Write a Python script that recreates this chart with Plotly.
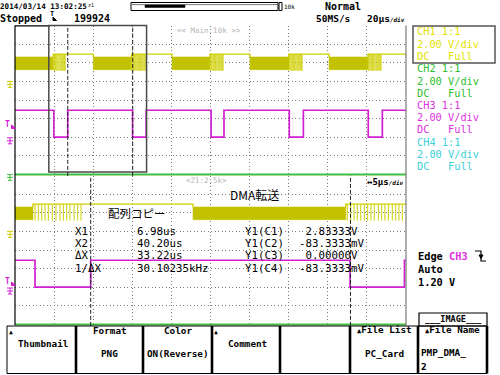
import plotly.graph_objects as go

W, H = 500, 375
MONO = "DejaVu Sans Mono"
CJK = "Noto Sans CJK JP"

# ---------------- data (time in µs relative to trigger) ----------------
main_range = [-20.0, 180.0]      # 20 µs/div x 10
zoom_range = [-2.7, 47.3]        # 5 µs/div x 10
main_dtick = 20.0
zoom_dtick = 5.0
div_range = [-4.08, 4.0]

cursor_x = [6.98, 40.20]

volts_per_div = 2.0
ch1_pos_div = 1.0
ch2_pos_div = -4.0
ch3_pos_div = -2.0

ch1_high_v = 2.93
ch1_band_top_v = 2.63
ch1_band_bot_v = 1.26
ch1_spike_low_v = 1.15
ch1_dense_start = [-20.0, 20.06, 60.3, 100.2, 140.6]
ch1_dense_end = [-0.4, 39.6, 79.7, 120.2, 160.6]
ch1_spikes = [
    -0.14, 0.28, 0.71, 1.14, 1.56, 2.07, 2.54, 3.05, 3.48, 3.91, 4.33, 4.85, 5.32, 5.74,
    39.79, 40.23, 40.65, 41.07, 41.51, 41.97, 42.40, 42.82, 43.25, 43.76, 44.19, 44.61,
    45.04, 45.55, 45.99, 46.40, 46.83,
    79.9, 80.3, 80.7, 81.2, 81.6, 82.1, 82.5, 82.9, 83.4, 83.9, 84.3, 84.7, 85.2, 85.7,
    86.1, 86.5,
    120.3, 120.7, 121.1, 121.6, 122.0, 122.5, 122.9, 123.3, 123.8, 124.3, 124.7, 125.1,
    125.6, 126.1, 126.5, 126.9,
    160.7, 161.1, 161.5, 162.0, 162.4, 162.9, 163.3, 163.7, 164.2, 164.7, 165.1, 165.5,
    166.0, 166.5, 166.9, 167.3,
]

ch3_high_v = 2.90
ch3_low_v = 0.0
ch3_low_start = [-0.14, 40.15, 80.3, 120.3, 160.7]
ch3_low_end = [6.98, 47.1, 86.9, 127.5, 167.9]

ch2_level_v = 0.0

cursor_labels = ["X1", "X2", "ΔX", "1/ΔX"]
cursor_values = ["6.98us", "40.20us", "33.22us", "30.10235kHz"]
cursor_ylabels = ["Y1(C1)", "Y1(C2)", "Y1(C3)", "Y1(C4)"]
cursor_yvalues = ["\u00a02.83333V", "-83.3333mV", "\u00a00.00000V", "-83.3333mV"]

ch_names = ["CH1", "CH2", "CH3", "CH4"]
ch_probe = ["1:1", "1:1", "1:1", "1:1"]
ch_vdiv = ["2.00 V/div"] * 4
ch_coupling = ["DC", "DC", "DC", "DC"]
ch_bw = ["Full", "Full", "Full", "Full"]

menu_top = ["", "Format", "Color", "", "", "File List", "File Name"]
menu_mid = ["Thumbnail", "", "", "Comment", "", "", ""]
menu_bot = ["", "PNG", "ON(Reverse)", "", "", "PC_Card", "PMP_DMA_"]

# ---------------- colours ----------------
YEL = "#cfcf00"
YEL_BAND = "#c2c200"
YEL_TXT = "#e2e200"
MAG = "#d21ed2"
MAG_TXT = "#dd33dd"
GRN = "#3fbf3f"
GRN_TXT = "#2fbf2f"
CYN_TXT = "#3cd0d8"
GRID = "#7c7c7c"


def vdiv(pos, v):
    return pos + v / volts_per_div


# ---------------- figure ----------------
fig = go.Figure()


def add_signals(xa, ya, t_end, spike_w):
    # CH1 dense band
    bx, by = [], []
    lo, hi = vdiv(ch1_pos_div, ch1_band_bot_v), vdiv(ch1_pos_div, ch1_band_top_v)
    for s, e in zip(ch1_dense_start, ch1_dense_end):
        bx += [s, e, e, s, s, None]
        by += [lo, lo, hi, hi, lo, None]
    fig.add_trace(go.Scatter(x=bx, y=by, mode="lines", fill="toself", fillcolor=YEL_BAND,
                             line=dict(color=YEL_BAND, width=0.5), xaxis=xa, yaxis=ya,
                             hoverinfo="skip"))
    # CH1 high level
    hx, hy = [], []
    h = vdiv(ch1_pos_div, ch1_high_v)
    for i, e in enumerate(ch1_dense_end):
        nxt = ch1_dense_start[i + 1] if i + 1 < len(ch1_dense_start) else t_end
        hx += [e, e, nxt, nxt, None]
        hy += [hi, h, h, hi, None]
    fig.add_trace(go.Scatter(x=hx, y=hy, mode="lines", line=dict(color=YEL, width=1.4),
                             xaxis=xa, yaxis=ya, hoverinfo="skip"))
    # CH1 spikes
    sx, sy = [], []
    sl = vdiv(ch1_pos_div, ch1_spike_low_v)
    for t in ch1_spikes:
        sx += [t, t, None]
        sy += [h, sl, None]
    fig.add_trace(go.Scatter(x=sx, y=sy, mode="lines", line=dict(color=YEL, width=spike_w),
                             xaxis=xa, yaxis=ya, hoverinfo="skip"))
    # CH3
    mh, ml = vdiv(ch3_pos_div, ch3_high_v), vdiv(ch3_pos_div, ch3_low_v)
    mx, my = [main_range[0]], [mh]
    for s, e in zip(ch3_low_start, ch3_low_end):
        mx += [s, s, e, e]
        my += [mh, ml, ml, mh]
    mx.append(t_end)
    my.append(mh)
    fig.add_trace(go.Scatter(x=mx, y=my, mode="lines", line=dict(color=MAG, width=1.7),
                             xaxis=xa, yaxis=ya, hoverinfo="skip"))
    # CH2
    g = vdiv(ch2_pos_div, ch2_level_v)
    fig.add_trace(go.Scatter(x=[main_range[0], t_end], y=[g, g], mode="lines",
                             line=dict(color=GRN, width=2), xaxis=xa, yaxis=ya,
                             hoverinfo="skip"))


add_signals("x", "y", main_range[1], 0.8)
add_signals("x2", "y2", main_range[1], 1.0)

# geometry (pixels)
X_L, X_R = 15, 406
DIVPX = 18.6
UP_C, LO_C = 100.0, 250.0


def ydom(center):
    top = center - div_range[1] * DIVPX
    bot = center - div_range[0] * DIVPX
    return [1 - bot / H, 1 - top / H]


axcommon = dict(showticklabels=False, ticks="", zeroline=False, showline=False,
                showgrid=True, gridcolor=GRID, griddash="1px,2.5px", gridwidth=1,
                fixedrange=True)

fig.update_layout(
    width=W, height=H, autosize=False,
    margin=dict(l=0, r=0, t=0, b=0, pad=0),
    paper_bgcolor="white", plot_bgcolor="rgba(0,0,0,0)",
    showlegend=False,
    xaxis=dict(domain=[X_L / W, X_R / W], range=main_range, tick0=main_range[0],
               dtick=main_dtick, anchor="y", **axcommon),
    yaxis=dict(domain=ydom(UP_C), range=div_range, tick0=0, dtick=1, anchor="x", **axcommon),
    xaxis2=dict(domain=[X_L / W, X_R / W], range=zoom_range, tick0=zoom_range[0],
                dtick=zoom_dtick, anchor="y2", **axcommon),
    yaxis2=dict(domain=ydom(LO_C), range=div_range, tick0=0, dtick=1, anchor="x2", **axcommon),
)

shapes = []


def P(x, y):
    return x / W, 1 - y / H


def pline(x0, y0, x1, y1, color="black", width=1, dash=None):
    a, b = P(x0, y0)
    c, d = P(x1, y1)
    ln = dict(color=color, width=width)
    if dash:
        ln["dash"] = dash
    shapes.append(dict(type="line", xref="paper", yref="paper", x0=a, y0=b, x1=c, y1=d,
                       line=ln, layer="above"))


def prect(x0, y0, x1, y1, color="black", width=1, fill=None):
    a, b = P(x0, y0)
    c, d = P(x1, y1)
    shapes.append(dict(type="rect", xref="paper", yref="paper", x0=a, y0=b, x1=c, y1=d,
                       line=dict(color=color, width=width),
                       fillcolor=fill if fill else "rgba(0,0,0,0)", layer="above"))


def ppath(pts, color, fill=None, width=1):
    d = "M " + " L ".join(f"{x / W:.5f},{1 - y / H:.5f}" for x, y in pts)
    if fill:
        d += " Z"
    shapes.append(dict(type="path", xref="paper", yref="paper", path=d,
                       line=dict(color=color, width=width),
                       fillcolor=fill if fill else "rgba(0,0,0,0)", layer="above"))


def ground(x, y, color):
    pline(x - 3, y, x + 3, y, color, 1)
    pline(x, y, x, y + 6, color, 1)
    pline(x - 3, y + 3, x + 3, y + 3, color, 1)
    pline(x - 2, y + 6, x + 2, y + 6, color, 1)


# panel frame
pline(X_L, 25.6, X_L, 325, "black", 1.2)
pline(X_R, 25.6, X_R, 325, "#7a7a7a", 1.2)
pline(X_L, 25.8, 50, 25.8, "black", 1.2)

# zoom box in the main window
shapes.append(dict(type="rect", xref="x", yref="y domain", x0=zoom_range[0], x1=zoom_range[1],
                   y0=0.026, y1=1.0, line=dict(color="#4a4a4a", width=1.5),
                   fillcolor="rgba(0,0,0,0)", layer="above"))
# cursors
for ax in ["", "2"]:
    for cx in cursor_x:
        shapes.append(dict(type="line", xref="x" + ax, yref=f"y{ax} domain", x0=cx, x1=cx,
                           y0=0, y1=1, line=dict(color="#222", width=1, dash="4px,2px"),
                           layer="above"))

# channel markers on the left
ground(10, 81.4, YEL)
ground(10, 137.8, MAG)
ground(10, 174.4, GRN)
ground(10, 231.4, YEL)
ground(10, 288, MAG)
ppath([(11.5, 125), (15.5, 128.5), (11.5, 128.5)], MAG, fill=MAG)
ppath([(11.5, 282), (15.5, 285.5), (11.5, 285.5)], MAG, fill=MAG)
# header trigger position mark
ppath([(53, 17), (56.5, 20.5), (53, 20.5)], "black", fill="black")

# header record bar
prect(131, 2.5, 278, 10.5, "black", 1)
pline(132, 4.6, 278, 4.6, "#555", 0.8)
prect(145, 5, 185, 7.5, "black", 0.5, fill="black")
prect(279, 2.5, 282, 10.5, "black", 1)

# channel info box
prect(413, 26, 495, 63, "#555", 1.5)

# trigger edge symbol
ppath([(475, 251), (481, 251), (481, 261), (486, 261)], "black", width=1.2)
ppath([(479, 255), (483, 255), (481, 258.5)], "black", fill="black")

# soft-key menu
pline(7, 326, 487, 326, "black", 1)
pline(7, 373.5, 487, 373.5, "black", 1)
pline(7, 326, 7, 373.5, "black", 1)
for sx in [76, 143, 212, 280, 350, 418, 487]:
    pline(sx, 326, sx, 373.5, "black", 2.6)
prect(419, 313, 487, 326, "black", 1.2)

fig.update_layout(shapes=shapes)

anns = []


def txt(x, y, s, size, color="black", font=MONO, anchor="left", bold=False):
    a, b = P(x, y)
    anns.append(dict(x=a, y=b, xref="paper", yref="paper", text=f"<b>{s}</b>" if bold else s,
                     showarrow=False, xanchor=anchor, yanchor="middle", borderpad=0,
                     font=dict(family=font, size=size, color=color)))


# header
txt(-1, 6.5, "2014/03/14 13:02:25", 7.6, bold=True)
txt(87, 4.5, "z1", 5)
txt(283, 6.5, "10k", 6)
txt(324, 6.5, "Normal", 10, bold=True)
txt(-1, 18.5, "Stopped", 10, bold=True)
txt(49, 14.5, "T", 7, bold=True)
txt(73, 18.5, "199924", 10, bold=True)
txt(315, 18.5, "50MS/s", 9.5, bold=True)
txt(366, 18.5, "20μs<span style='font-size:6px'><i>/div</i></span>", 9.5, bold=True)

# main window label
txt(176, 30.5, "&lt;&lt; Main:10k &gt;&gt;", 7.5, "#b5b5b5")

# channel settings
ch_cols = [YEL_TXT, GRN_TXT, MAG_TXT, CYN_TXT]
for i in range(4):
    y0 = 31.5 + i * 36.8
    txt(416, y0, f"{ch_names[i]} {ch_probe[i]}", 10.3, ch_cols[i])
    txt(416, y0 + 12.2, ch_vdiv[i], 10.3, ch_cols[i])
    txt(416, y0 + 24.4, f"{ch_coupling[i]}\u00a0\u00a0\u00a0{ch_bw[i]}", 10.3, ch_cols[i])

# markers
txt(4, 124, "T", 8, MAG, bold=True)
txt(4, 281, "T", 8, MAG, bold=True)

# zoom window labels
txt(185, 180, "&lt;Z1:2.5k&gt;", 7.5, "#b5b5b5")
txt(366, 182, "↔5μs<span style='font-size:6px'><i>/div</i></span>", 9, bold=True)
txt(229, 194, "DMA転送", 12, font=CJK)
txt(107, 213, "配列コピー", 11.5, font=CJK)

# cursor readout
for i in range(4):
    y0 = 231 + i * 12.45
    txt(74, y0, cursor_labels[i], 10.8)
    txt(136, y0, cursor_values[i], 10.8)
    txt(244, y0, cursor_ylabels[i], 10.8)
    txt(298, y0, cursor_yvalues[i], 10.8)

# trigger settings
txt(417, 256, f"Edge <span style='color:{MAG_TXT}'>CH3</span>", 10.3, bold=True)
txt(417, 268.5, "Auto", 10.3, bold=True)
txt(417, 281.5, "1.20 V", 10.3, bold=True)
txt(453, 318.5, "___IMAGE___", 8.5, anchor="center", bold=True)

# menu
centers = [41.5, 109.5, 177.5, 246, 315, 384, 452.5]
for i, c in enumerate(centers):
    if menu_top[i]:
        if i >= 5:
            txt(c, 329.5, f"<span style='font-size:7px'>▲</span>{menu_top[i]}", 9.3,
                anchor="center", bold=True)
        else:
            txt(c, 330, menu_top[i], 9.3, anchor="center", bold=True)
    if menu_mid[i]:
        txt(c + 1, 343.5, menu_mid[i], 9.3, anchor="center", bold=True)
    if menu_bot[i]:
        if i == 6:
            txt(420, 352.5, menu_bot[i], 9.3, bold=True)
        else:
            txt(c, 353.5, menu_bot[i], 9.3, anchor="center", bold=True)
txt(420, 366, "2", 9.3, bold=True)
txt(8, 331.5, "▲", 6.5)
txt(213, 331.5, "▲", 6.5)

fig.update_layout(annotations=anns)

fig.write_html("out.html", config={"displayModeBar": False},
               post_script="document.body.style.margin='0px';")
